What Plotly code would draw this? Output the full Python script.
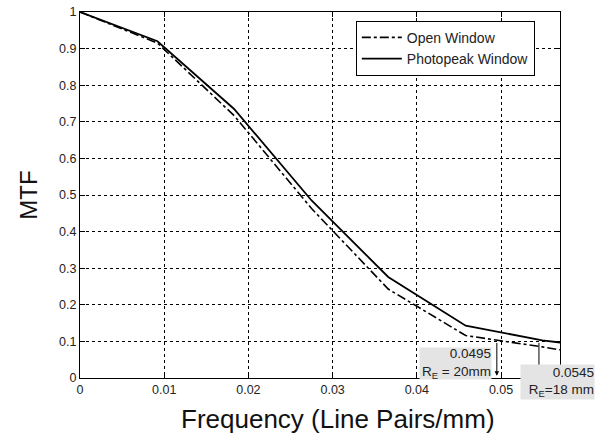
import plotly.graph_objects as go

freq = [0, 0.0092, 0.0183, 0.0275, 0.0366, 0.0458, 0.0549, 0.057]
open_window = [1.0, 0.915, 0.717, 0.463, 0.243, 0.116, 0.085, 0.077]
photopeak_window = [1.0, 0.92, 0.735, 0.485, 0.276, 0.143, 0.103, 0.097]

x_ticks = [0, 0.01, 0.02, 0.03, 0.04, 0.05]
y_ticks = [0, 0.1, 0.2, 0.3, 0.4, 0.5, 0.6, 0.7, 0.8, 0.9, 1]

re_freqs = [0.0495, 0.0545]
re_labels = ["0.0495<br>R<sub>E</sub> = 20mm", "0.0545<br>R<sub>E</sub>=18 mm"]

FONT = "Liberation Sans, Arial, sans-serif"

fig = go.Figure()
fig.add_trace(go.Scatter(x=freq, y=open_window, mode="lines", name="Open Window",
                         line=dict(color="black", width=1.6, dash="dashdot")))
fig.add_trace(go.Scatter(x=freq, y=photopeak_window, mode="lines", name="Photopeak Window",
                         line=dict(color="black", width=1.8)))

axis_common = dict(showline=True, linecolor="black", linewidth=1, mirror="ticks",
                   ticks="inside", ticklen=5, tickcolor="black", automargin=False,
                   showgrid=True, gridcolor="black", gridwidth=1, griddash="3px,3px",
                   zeroline=False, tickfont=dict(family=FONT, size=12.5, color="#222"))

fig.update_xaxes(range=[0, 0.057], tickvals=x_ticks,
                 ticktext=[f"{v:g}" for v in x_ticks],
                 **axis_common)
fig.update_yaxes(range=[0, 1], tickvals=y_ticks,
                 ticktext=[f"{v:g}" for v in y_ticks],
                 title=dict(text="MTF", font=dict(family=FONT, size=24, color="#111"), standoff=14),
                 **axis_common)

# x-axis title (offset to the right as in the original)
fig.add_annotation(x=0.5375, y=-0.113, xref="paper", yref="paper", xanchor="center", yanchor="middle",
                   text="Frequency (Line Pairs/mm)", showarrow=False,
                   font=dict(family=FONT, size=26, color="#111"))

# arrows
for f in re_freqs:
    fig.add_annotation(x=f, y=0.006, ax=f, ay=0.1, xref="x", yref="y", axref="x", ayref="y",
                       showarrow=True, arrowhead=2, arrowsize=0.9, arrowwidth=1,
                       arrowcolor="black", text="")

# label boxes
fig.add_annotation(x=0.858, y=0.0847, xref="paper", yref="paper", xanchor="right", yanchor="top",
                   text=re_labels[0], showarrow=False, align="right", valign="middle",
                   bgcolor="#e4e4e4", width=71, height=31, borderpad=0,
                   font=dict(family=FONT, size=13.5, color="#222"))
fig.add_annotation(x=1.0729, y=0.038, xref="paper", yref="paper", xanchor="right", yanchor="top",
                   text=re_labels[1], showarrow=False, align="right", valign="middle",
                   bgcolor="#e4e4e4", width=73, height=34, borderpad=0,
                   font=dict(family=FONT, size=13.5, color="#222"))

fig.update_layout(
    width=595, height=443,
    margin=dict(l=80, r=35, t=12, b=65, autoexpand=False),
    plot_bgcolor="white", paper_bgcolor="white",
    showlegend=True,
    legend=dict(x=0.5746, y=0.976, xanchor="left", yanchor="top",
                bgcolor="white", bordercolor="black", borderwidth=1,
                font=dict(family=FONT, size=14, color="#222"),
                tracegroupgap=0, itemwidth=40),
    font=dict(family=FONT),
)

fig.write_html("out.html")
